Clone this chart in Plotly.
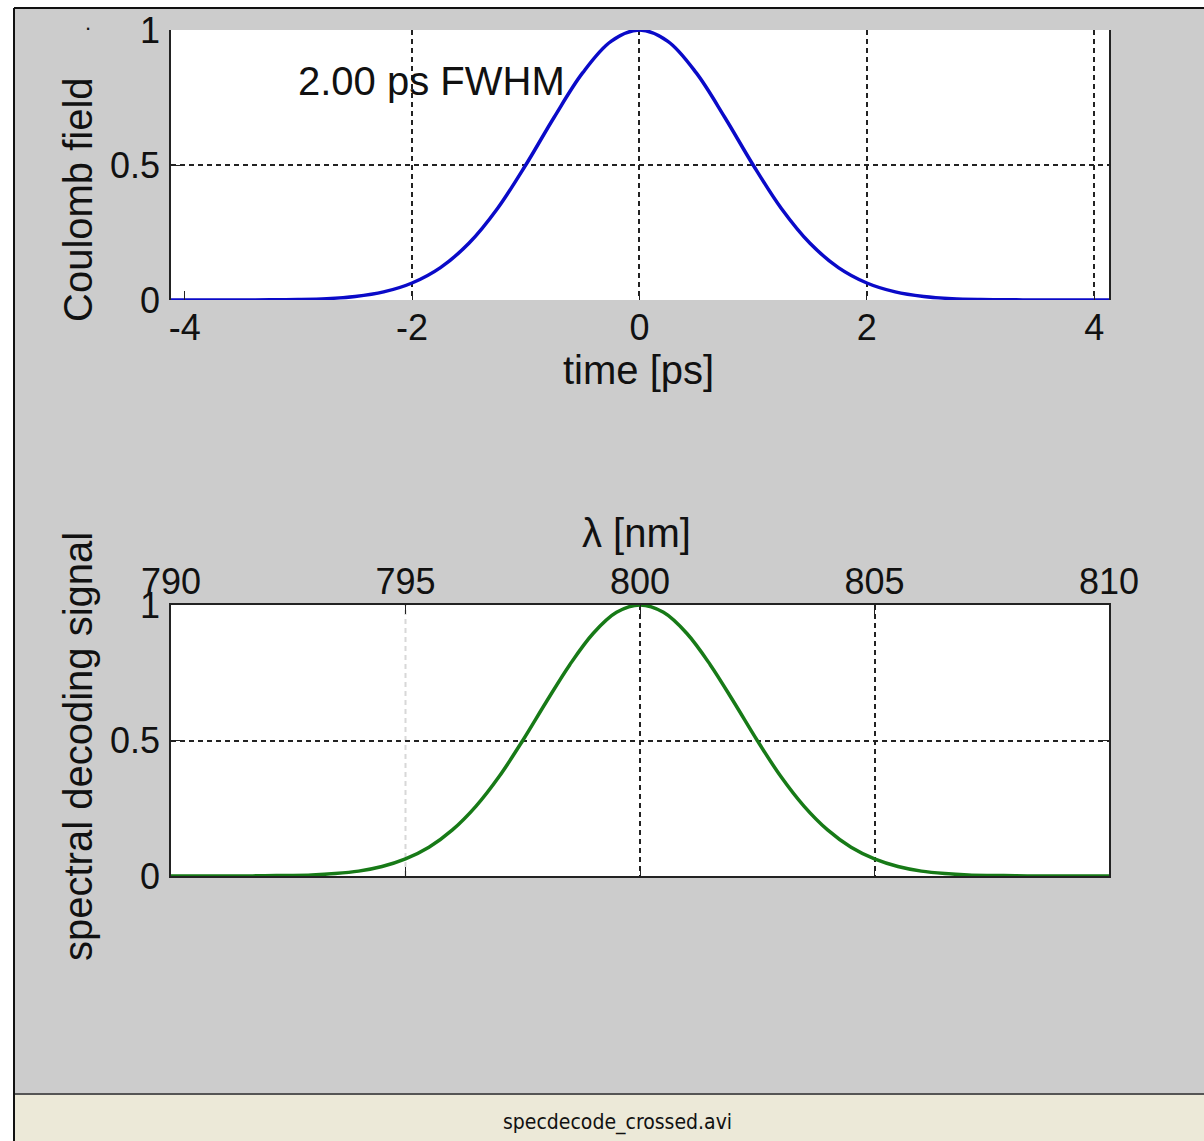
import plotly.graph_objects as go

# ---- data ----
time_ps = [-4.25, -4.0, -3.75, -3.5, -3.25, -3.0, -2.75, -2.5, -2.25, -2.0, -1.75, -1.5,
           -1.25, -1.0, -0.75, -0.5, -0.25, 0.0, 0.25, 0.5, 0.75, 1.0, 1.25, 1.5,
           1.75, 2.0, 2.25, 2.5, 2.75, 3.0, 3.25, 3.5, 3.75, 4.0, 4.25]
coulomb_field = [0.0, 0.0, 0.0, 0.0, 0.001, 0.002, 0.005, 0.013, 0.030, 0.063, 0.120, 0.210,
                 0.338, 0.500, 0.677, 0.841, 0.958, 1.0, 0.958, 0.841, 0.677, 0.500, 0.338, 0.210,
                 0.120, 0.063, 0.030, 0.013, 0.005, 0.002, 0.001, 0.0, 0.0, 0.0, 0.0]

wavelength_nm = [790.0, 790.5, 791.0, 791.5, 792.0, 792.5, 793.0, 793.5, 794.0, 794.5,
                 795.0, 795.5, 796.0, 796.5, 797.0, 797.5, 798.0, 798.5, 799.0, 799.5,
                 800.0, 800.5, 801.0, 801.5, 802.0, 802.5, 803.0, 803.5, 804.0, 804.5,
                 805.0, 805.5, 806.0, 806.5, 807.0, 807.5, 808.0, 808.5, 809.0, 809.5, 810.0]
decoding_signal = [0.0, 0.0, 0.0, 0.0, 0.001, 0.002, 0.004, 0.009, 0.018, 0.035,
                   0.063, 0.106, 0.170, 0.257, 0.368, 0.500, 0.642, 0.779, 0.895, 0.973,
                   1.0, 0.973, 0.895, 0.779, 0.642, 0.500, 0.368, 0.257, 0.170, 0.106,
                   0.063, 0.035, 0.018, 0.009, 0.004, 0.002, 0.001, 0.0, 0.0, 0.0, 0.0]

time_ticks = [-4, -2, 0, 2, 4]
time_ticklabels = ["-4", "-2", "0", "2", "4"]
time_gridvals = [-2, 0, 2, 4]
wl_ticks = [790, 795, 800, 805, 810]
wl_ticklabels = ["790", "795", "800", "805", "810"]
wl_gridvals_dark = [800, 805]
wl_gridval_light = 795
y_ticks = [0, 0.5, 1]
y_ticklabels = ["0", "0.5", "1"]

annotation_text = "2.00 ps FWHM"
status_text = "specdecode_crossed.avi"

W, H = 1204, 1141
def px(x):
    return x / W
def py(y):
    return 1 - y / H

GRAY = "#cccccc"
FONT = "Liberation Sans, Arial, sans-serif"
TICKFONT = dict(family=FONT, size=36, color="#111111")
TITLEFONT = dict(family=FONT, size=40, color="#111111")
GRIDDASH = "5px,4px"

fig = go.Figure()
fig.add_trace(go.Scatter(x=time_ps, y=coulomb_field, mode="lines", line=dict(color="#0a0ac8", width=3.5, shape="spline"),
                         xaxis="x", yaxis="y", showlegend=False, hoverinfo="skip"))
fig.add_trace(go.Scatter(x=wavelength_nm, y=decoding_signal, mode="lines", line=dict(color="#177a17", width=3.5, shape="spline"),
                         xaxis="x2", yaxis="y2", showlegend=False, hoverinfo="skip"))

ygrid = dict(showgrid=True, gridcolor="#222222", gridwidth=1.5, griddash=GRIDDASH, automargin=False)

fig.update_layout(
    width=W, height=H, margin=dict(l=0, r=0, t=0, b=0, autoexpand=False),
    paper_bgcolor=GRAY, plot_bgcolor="white",
    xaxis=dict(domain=[px(171), px(1109)], range=[-4.12, 4.13], tickvals=time_ticks, ticktext=time_ticklabels,
               ticks="inside", ticklen=9, tickcolor="#222", showline=False, zeroline=False,
               tickfont=TICKFONT, ticklabelstandoff=3, anchor="y", automargin=False, showgrid=False,
               minor=dict(tickvals=time_gridvals, showgrid=True, gridcolor="#222222", gridwidth=1.5,
                          griddash=GRIDDASH, ticks="")),
    yaxis=dict(domain=[py(300), py(30)], range=[0, 1], tickvals=y_ticks, ticktext=y_ticklabels,
               ticks="inside", ticklen=9, tickcolor="#222", showline=True, linecolor="#222", linewidth=1.5,
               mirror=True, zeroline=False, tickfont=TICKFONT, ticklabelstandoff=2, anchor="x", **ygrid),
    xaxis2=dict(domain=[px(171), px(1109)], range=[790, 810], tickvals=wl_ticks, ticktext=wl_ticklabels, side="top",
                ticks="inside", ticklen=9, tickcolor="#222", showline=True, linecolor="#222", linewidth=1.5,
                mirror="ticks", zeroline=False, tickfont=TICKFONT, ticklabelstandoff=-5, anchor="y2",
                automargin=False, showgrid=False,
                minor=dict(tickvals=wl_gridvals_dark, showgrid=True, gridcolor="#222222", gridwidth=1.5,
                           griddash=GRIDDASH, ticks="")),
    yaxis2=dict(domain=[py(876), py(605)], range=[0, 1], tickvals=y_ticks, ticktext=y_ticklabels,
                ticks="inside", ticklen=9, tickcolor="#222", showline=True, linecolor="#222", linewidth=1.5,
                mirror="ticks", zeroline=False, tickfont=TICKFONT, ticklabelstandoff=2, anchor="x2", **ygrid),
    shapes=[
        dict(type="rect", xref="paper", yref="paper", x0=0, x1=1, y0=py(8), y1=1, fillcolor="white", line_width=0),
        dict(type="rect", xref="paper", yref="paper", x0=0, x1=px(14), y0=0, y1=1, fillcolor="white", line_width=0),
        dict(type="rect", xref="paper", yref="paper", x0=px(14), x1=1, y0=0, y1=py(1095), fillcolor="#ece9d8", line_width=0),
        dict(type="line", xref="paper", yref="paper", x0=px(14), x1=1, y0=py(1094), y1=py(1094), line=dict(color="#555555", width=2)),
        dict(type="line", xref="paper", yref="paper", x0=px(14), x1=1, y0=py(8), y1=py(8), line=dict(color="#111111", width=2)),
        dict(type="line", xref="paper", yref="paper", x0=px(14), x1=px(14), y0=0, y1=py(8), line=dict(color="#111111", width=2)),
        dict(type="line", xref="x2", yref="y2 domain", x0=wl_gridval_light, x1=wl_gridval_light, y0=0, y1=1,
             layer="below", line=dict(color="#d8d8d8", width=2, dash=GRIDDASH)),
    ],
    annotations=[
        dict(text=annotation_text, x=-3.02, y=0.81, xref="x", yref="y", xanchor="left", yanchor="middle",
             showarrow=False, font=TITLEFONT),
        dict(text="time [ps]", x=px(638), y=py(370), xref="paper", yref="paper", xanchor="center", yanchor="middle",
             showarrow=False, font=TITLEFONT),
        dict(text="Coulomb field", x=px(78), y=py(200), xref="paper", yref="paper", xanchor="center", yanchor="middle",
             textangle=-90, showarrow=False, font=TITLEFONT),
        dict(text="λ [nm]", x=px(636), y=py(533), xref="paper", yref="paper", xanchor="center", yanchor="middle",
             showarrow=False, font=TITLEFONT),
        dict(text="spectral decoding signal", x=px(78), y=py(747), xref="paper", yref="paper", xanchor="center",
             yanchor="middle", textangle=-90, showarrow=False, font=TITLEFONT),
        dict(text=status_text, x=px(617), y=py(1122), xref="paper", yref="paper", xanchor="center", yanchor="middle",
             showarrow=False, font=dict(family="Liberation Sans Narrow, DejaVu Sans Condensed, sans-serif", size=21, color="#111")),
        dict(text=".", x=px(88), y=py(22), xref="paper", yref="paper", xanchor="center", yanchor="middle",
             showarrow=False, font=dict(family=FONT, size=22, color="#111")),
    ],
)

fig.write_html("out.html", config={"displayModeBar": False},
               post_script="document.body.style.margin='0';document.documentElement.style.overflow='hidden';")
